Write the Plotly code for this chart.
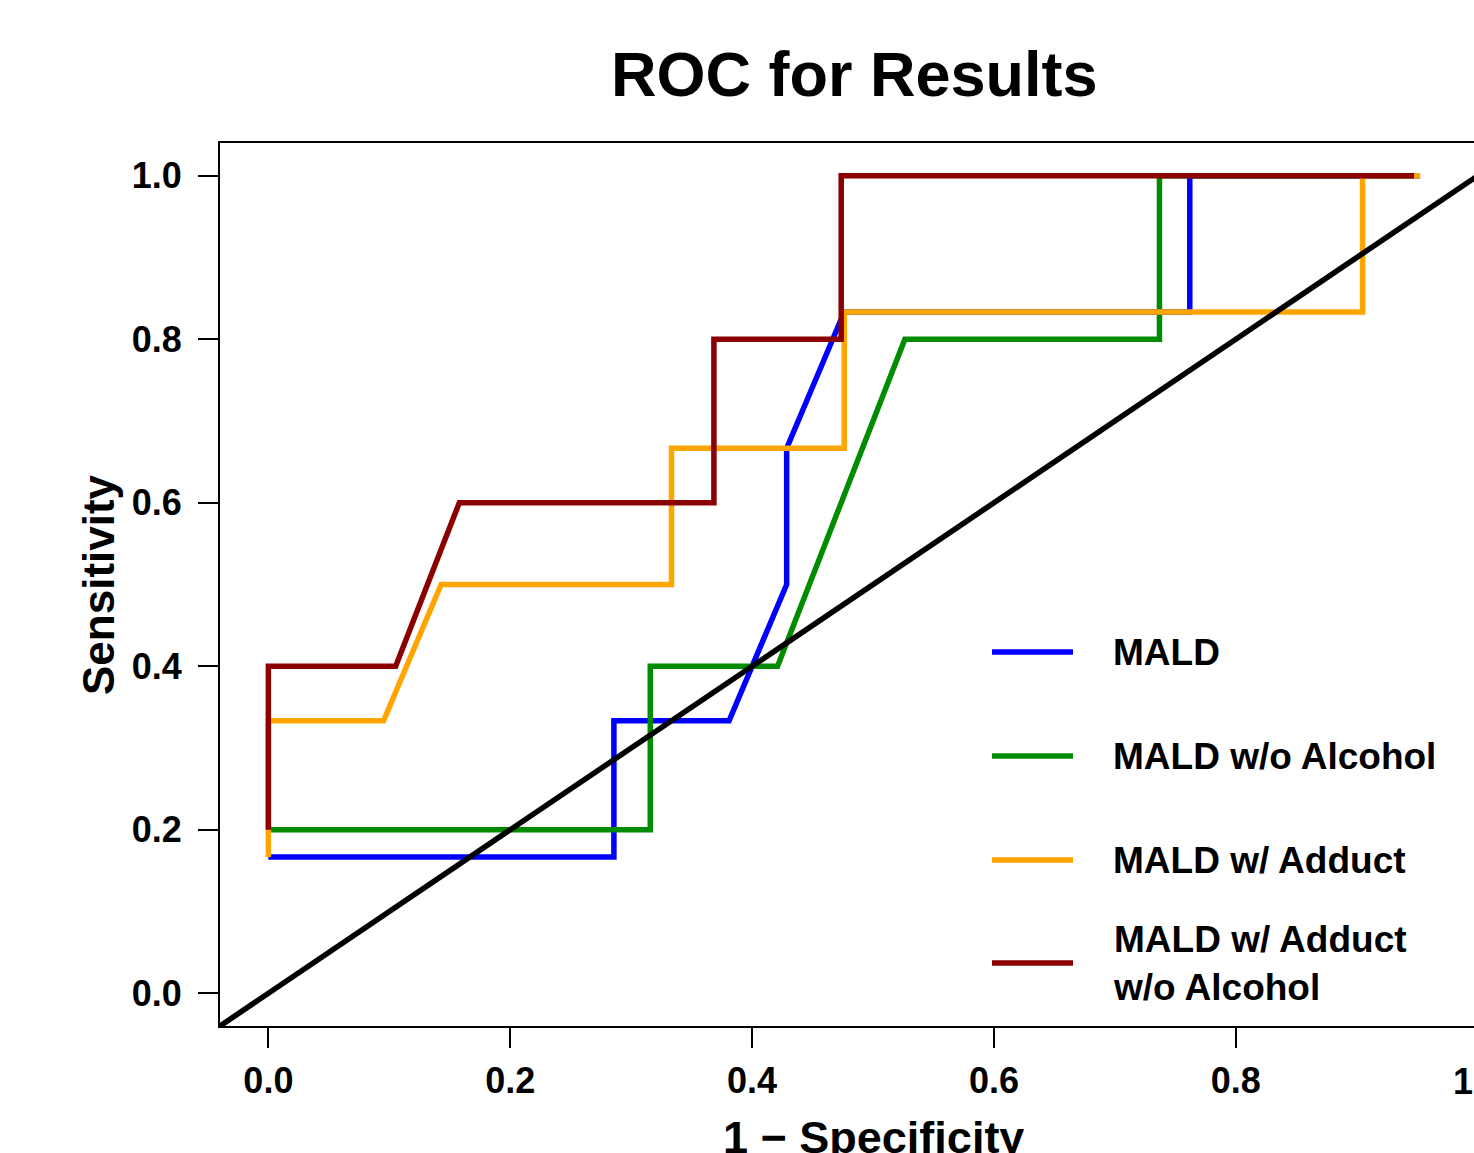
import plotly.graph_objects as go

# ---------------- data ----------------
series_names = ["MALD", "MALD w/o Alcohol", "MALD w/ Adduct", "MALD w/ Adduct<br>w/o Alcohol"]
series_colors = ["#0000FF", "#008B00", "#FFA500", "#8B0000"]

mald_fpr = [0, 6/21, 6/21, 8/21, 9/21, 9/21, 10/21, 16/21, 16/21, 20/21]
mald_tpr = [1/6, 1/6, 2/6, 2/6, 3/6, 4/6, 5/6, 5/6, 1.0, 1.0]

mald_noalc_fpr = [0, 6/19, 6/19, 8/19, 10/19, 14/19, 14/19, 18/19]
mald_noalc_tpr = [0.2, 0.2, 0.4, 0.4, 0.8, 0.8, 1.0, 1.0]

mald_add_fpr = [0, 0, 2/21, 3/21, 7/21, 7/21, 10/21, 10/21, 19/21, 19/21, 20/21]
mald_add_tpr = [1/6, 2/6, 2/6, 3/6, 3/6, 4/6, 4/6, 5/6, 5/6, 1.0, 1.0]

mald_add_noalc_fpr = [0, 0, 2/19, 3/19, 7/19, 7/19, 9/19, 9/19, 18/19]
mald_add_noalc_tpr = [0.2, 0.4, 0.4, 0.6, 0.6, 0.8, 0.8, 1.0, 1.0]

chance_x = [-1, 2]
chance_y = [-1, 2]

tick_vals = [0, 0.2, 0.4, 0.6, 0.8, 1.0]
tick_text = ["0.0", "0.2", "0.4", "0.6", "0.8", "1.0"]

all_fpr = [mald_fpr, mald_noalc_fpr, mald_add_fpr, mald_add_noalc_fpr]
all_tpr = [mald_tpr, mald_noalc_tpr, mald_add_tpr, mald_add_noalc_tpr]

# ---------------- layout geometry (pixels) ----------------
W, H = 1474, 1153
L, T = 220, 143
PLOT_BOTTOM = 1026
R, B = 0, H - PLOT_BOTTOM
PW, PH = W - L - R, H - T - B
FONT = "Liberation Sans, Arial, Helvetica, sans-serif"
X0_PX, X_UNIT = 268.7, 1209.0   # pixel of x=0 and pixels per x unit

def px(xp):
    # picture x pixel -> paper fraction
    return (xp - L) / PW

def py(yp):
    # picture y pixel -> paper fraction
    return (PLOT_BOTTOM - yp) / PH

x_right = (W - X0_PX) / X_UNIT

fig = go.Figure()
for fx, ty, nm, col in zip(all_fpr, all_tpr, series_names, series_colors):
    fig.add_trace(go.Scatter(x=fx, y=ty, mode="lines", name=nm,
                             line=dict(color=col, width=5.5), showlegend=False,
                             hoverinfo="skip"))
fig.add_trace(go.Scatter(x=chance_x, y=chance_y, mode="lines",
                         line=dict(color="black", width=5.5), showlegend=False,
                         hoverinfo="skip"))

fig.update_layout(
    width=W, height=H,
    margin=dict(l=L, r=R, t=T, b=B, pad=0),
    plot_bgcolor="white", paper_bgcolor="white",
    showlegend=False,
    font=dict(family=FONT, color="black"),
)
fig.update_xaxes(range=[-0.04, x_right], showgrid=False, zeroline=False,
                 showline=True, linecolor="black", linewidth=2, mirror=True,
                 ticks="outside", ticklen=20, tickwidth=2, tickcolor="black",
                 tickvals=tick_vals, ticktext=tick_text,
                 tickfont=dict(size=36, family=FONT, weight="bold"),
                 ticklabelstandoff=2)
fig.update_yaxes(range=[-0.04, 1.04], showgrid=False, zeroline=False,
                 showline=True, linecolor="black", linewidth=2, mirror=False,
                 ticks="outside", ticklen=20, tickwidth=2, tickcolor="black",
                 tickvals=tick_vals, ticktext=tick_text,
                 tickfont=dict(size=36, family=FONT, weight="bold"),
                 ticklabelstandoff=9)

ann = []
# last x tick label, cut off by the right edge as in the original
ann.append(dict(x=px(X0_PX + tick_vals[-1] * X_UNIT), xref="paper", y=py(1081), yref="paper",
                text=tick_text[-1], showarrow=False, xanchor="center", yanchor="middle",
                font=dict(size=36, family=FONT, weight="bold")))
# title
ann.append(dict(x=px(854), xref="paper", y=py(74), yref="paper",
                text="ROC for Results", showarrow=False, xanchor="center", yanchor="middle",
                font=dict(size=63, family=FONT, weight="bold")))
# axis titles
ann.append(dict(x=px(873), xref="paper", y=py(1137), yref="paper",
                text="1 \u2212 Specificity", showarrow=False, xanchor="center", yanchor="middle",
                font=dict(size=45, family=FONT, weight="bold")))
ann.append(dict(x=px(98), xref="paper", y=py(585), yref="paper",
                text="Sensitivity", showarrow=False, xanchor="center", yanchor="middle",
                textangle=-90, font=dict(size=44, family=FONT, weight="bold")))

# legend
leg_y = [652, 756, 860, 963]
shapes = []
for yy, nm, col in zip(leg_y, series_names, series_colors):
    shapes.append(dict(type="line", xref="paper", yref="paper",
                       x0=px(992), x1=px(1073), y0=py(yy), y1=py(yy),
                       line=dict(color=col, width=5.5)))
    ann.append(dict(x=px(1111), xref="paper", y=py(yy), yref="paper",
                    text=nm, showarrow=False, xanchor="left", yanchor="middle", align="left",
                    font=dict(size=37, family=FONT, weight="bold")))

fig.update_layout(annotations=ann, shapes=shapes)
fig.write_html("out.html", config={"displayModeBar": False},
               post_script="document.body.style.margin='0';document.body.style.overflow='hidden';")
